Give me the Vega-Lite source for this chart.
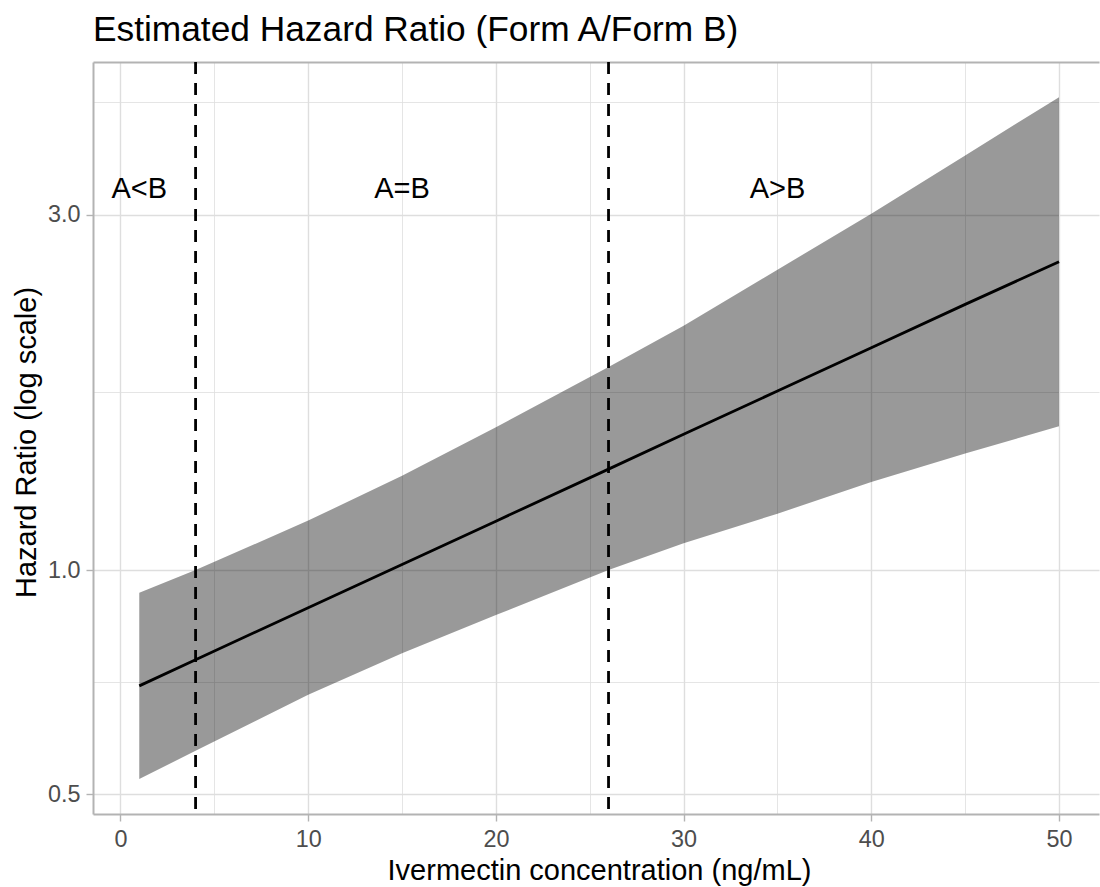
{
  "$schema": "https://vega.github.io/schema/vega-lite/v6.json",
  "autosize": {"type": "none"},
  "padding": {"left": 93, "top": 62, "right": 1, "bottom": 73},
  "width": 1006,
  "height": 752,
  "background": "white",
  "config": {"view": {"stroke": null}, "font": "Liberation Sans"},
  "title": {"text": "Estimated Hazard Ratio (Form A/Form B)", "anchor": "start", "frame": "group", "fontSize": 35.3, "fontWeight": "normal", "color": "black", "offset": 12, "font": "Liberation Sans"},
  "datasets": {
    "curve": [
      {"conc": 1, "hr": 0.699, "lower": 0.524, "upper": 0.932},
      {"conc": 4, "hr": 0.758, "lower": 0.572, "upper": 1.0},
      {"conc": 10, "hr": 0.890, "lower": 0.680, "upper": 1.165},
      {"conc": 15, "hr": 1.017, "lower": 0.773, "upper": 1.338},
      {"conc": 20, "hr": 1.163, "lower": 0.870, "upper": 1.555},
      {"conc": 26, "hr": 1.366, "lower": 1.0, "upper": 1.873},
      {"conc": 30, "hr": 1.521, "lower": 1.086, "upper": 2.128},
      {"conc": 35, "hr": 1.739, "lower": 1.190, "upper": 2.530},
      {"conc": 40, "hr": 1.988, "lower": 1.313, "upper": 3.008},
      {"conc": 45, "hr": 2.273, "lower": 1.434, "upper": 3.602},
      {"conc": 50, "hr": 2.593, "lower": 1.559, "upper": 4.313}
    ],
    "cuts": [{"conc": 4}, {"conc": 26}],
    "zones": [
      {"label": "A<B", "conc": 1, "hr": 3.25},
      {"label": "A=B", "conc": 15, "hr": 3.25},
      {"label": "A>B", "conc": 35, "hr": 3.25}
    ]
  },
  "layer": [
    {
      "data": {"name": "curve"},
      "mark": {"type": "area", "color": "black", "opacity": 0.4},
      "encoding": {
        "x": {
          "field": "conc", "type": "quantitative",
          "scale": {"domain": [-1.465, 52.13], "nice": false, "zero": false},
          "axis": {
            "values": [0, 5, 10, 15, 20, 25, 30, 35, 40, 45, 50],
            "format": "d",
            "labelExpr": "datum.value % 10 === 0 ? datum.label : ''",
            "title": "Ivermectin concentration (ng/mL)",
            "titleFontSize": 29, "titleFontWeight": "normal", "titleColor": "black",
            "titleX": 506, "titleY": 65, "titleBaseline": "alphabetic",
            "labelFontSize": 23.4, "labelColor": "#4D4D4D", "labelPadding": 7,
            "labelFlush": false, "labelOverlap": false,
            "tickSize": 7, "tickColor": "#B3B3B3", "tickWidth": 1.4,
            "tickOpacity": {"condition": {"test": "datum.value % 10 === 0", "value": 1}, "value": 0},
            "grid": true, "gridColor": "#DEDEDE",
            "gridWidth": {"condition": {"test": "datum.value % 10 === 0", "value": 1.4}, "value": 0.8},
            "domain": true, "domainColor": "#B3B3B3", "domainWidth": 2
          }
        },
        "y": {
          "field": "lower", "type": "quantitative",
          "title": "Hazard Ratio (log scale)",
          "scale": {"type": "log", "domain": [0.4704, 4.808], "nice": false, "zero": false},
          "axis": {
            "values": [0.5, 0.7071, 1, 1.7321, 3, 4.2451],
            "format": ".1f",
            "labelExpr": "datum.value === 0.5 || datum.value === 1 || datum.value === 3 ? datum.label : ''",
            "titleFontSize": 29, "titleFontWeight": "normal", "titleColor": "black",
            "titleX": -58, "titleY": 380, "titleBaseline": "alphabetic", "titleAngle": 270, "titleAlign": "center",
            "labelFontSize": 23.4, "labelColor": "#4D4D4D", "labelPadding": 6,
            "labelFlush": false, "labelOverlap": false,
            "tickSize": 7, "tickColor": "#B3B3B3", "tickWidth": 1.4,
            "tickOpacity": {"condition": {"test": "datum.value === 0.5 || datum.value === 1 || datum.value === 3", "value": 1}, "value": 0},
            "grid": true, "gridColor": "#DEDEDE",
            "gridWidth": {"condition": {"test": "datum.value === 0.5 || datum.value === 1 || datum.value === 3", "value": 1.4}, "value": 0.8},
            "domain": true, "domainColor": "#B3B3B3", "domainWidth": 2
          }
        },
        "y2": {"field": "upper"}
      }
    },
    {
      "data": {"name": "curve"},
      "mark": {"type": "line", "color": "black", "strokeWidth": 2.8},
      "encoding": {
        "x": {"field": "conc", "type": "quantitative", "axis": null},
        "y": {"field": "hr", "type": "quantitative", "title": "Hazard Ratio (log scale)"}
      }
    },
    {
      "data": {"name": "cuts"},
      "mark": {"type": "rule", "color": "black", "strokeWidth": 2.8, "strokeDash": [12, 9]},
      "encoding": {
        "x": {"field": "conc", "type": "quantitative", "axis": null}
      }
    },
    {
      "data": {"name": "zones"},
      "mark": {"type": "text", "fontSize": 29, "color": "black", "baseline": "middle", "align": "center", "font": "Liberation Sans"},
      "encoding": {
        "x": {"field": "conc", "type": "quantitative", "axis": {"orient": "top", "labels": false, "ticks": false, "grid": false, "title": null, "domain": true, "domainColor": "#B3B3B3", "domainWidth": 2}},
        "y": {"field": "hr", "type": "quantitative", "title": "Hazard Ratio (log scale)"},
        "text": {"field": "label"}
      }
    }
  ],
  "resolve": {"axis": {"x": "independent"}}
}
